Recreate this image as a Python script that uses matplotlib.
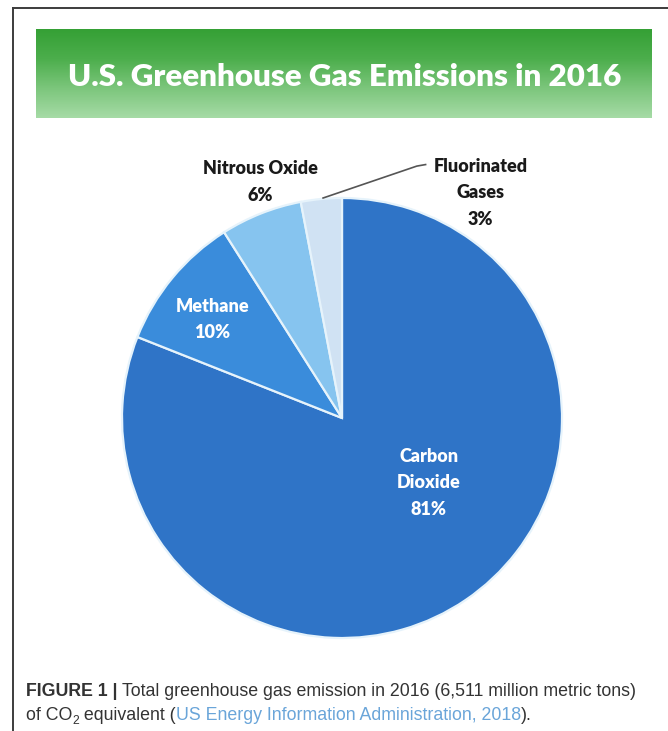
import numpy as np
import matplotlib
matplotlib.use('Agg')
import matplotlib.pyplot as plt
from matplotlib.colors import LinearSegmentedColormap
from matplotlib.lines import Line2D

# data
gases  = ['Carbon Dioxide', 'Methane', 'Nitrous Oxide', 'Fluorinated Gases']
shares = [81, 10, 6, 3]
label_lines = [['Carbon', 'Dioxide', '81%'],
               ['Methane', '10%'],
               ['Nitrous Oxide', '6%'],
               ['Fluorinated', 'Gases', '3%']]
title = 'U.S. Greenhouse Gas Emissions in 2016'

# styles / layout
colors      = ['#2f74c7', '#3a8cdb', '#86c4ef', '#d0e2f3']
text_colors = ['white', 'white', '#1a1a1a', '#1a1a1a']
# label anchor (x, first line y) in pie data units, line step
label_pos = [(0.395, -0.173), (-0.59, 0.509), (-0.373, 1.135), (0.63, 1.145)]
line_step = 0.122

W, H = 668, 731
fig = plt.figure(figsize=(W / 100, H / 100), dpi=100)

def fx(px): return px / W
def fy(py): return 1 - py / H

# frame lines (top + left)
fig.add_artist(Line2D([fx(13), 1], [fy(8), fy(8)], color='#3c3c3c', lw=1.4))
fig.add_artist(Line2D([fx(13), fx(13)], [fy(8), 0], color='#3c3c3c', lw=1.4))

# green banner
axb = fig.add_axes([fx(36), fy(118), fx(652) - fx(36), fy(29) - fy(118)])
cmap = LinearSegmentedColormap.from_list('g', ['#35a035', '#4cae4c', '#7cc67c', '#a6dba6'])
grad = np.linspace(0, 1, 256).reshape(-1, 1)
axb.imshow(grad, cmap=cmap, aspect='auto', extent=[0, 1, 0, 1])
axb.axis('off')
fig.text(fx(345), fy(77), title, color='white', fontsize=22.5, fontweight='heavy',
         family=['Lato', 'DejaVu Sans'], ha='center', va='center')

# pie
cx, cy, r = 342, 418, 220
ax = fig.add_axes([fx(cx - r), fy(cy + r), 2 * r / W, 2 * r / H])
wedges, _ = ax.pie(shares, startangle=90, counterclock=False, colors=colors,
                   wedgeprops=dict(edgecolor='#e6f3fb', linewidth=1.6))
for w in wedges:
    w.set_clip_on(False)
ax.set_xlim(-1, 1)
ax.set_ylim(-1, 1)
ax.set_aspect('auto')
ax.axis('off')

for lines, (lx, ly), tc in zip(label_lines, label_pos, text_colors):
    for k, s in enumerate(lines):
        ax.text(lx, ly - k * line_step, s, color=tc, fontsize=13, fontweight='heavy',
                family=['Lato', 'DejaVu Sans'], ha='center', va='center', clip_on=False)

# leader line for fluorinated gases
ax.plot([-0.086, 0.34, 0.38], [1.0, 1.145, 1.152], color='#555555', lw=1.2, clip_on=False)

# caption
renderer = fig.canvas.get_renderer()
cap_font = ['Liberation Sans', 'DejaVu Sans']

def chain(x0, y0, pieces):
    x = x0
    for s, kw in pieces:
        t = fig.text(x, y0, s, family=cap_font, va='baseline', ha='left', **kw)
        bb = t.get_window_extent(renderer)
        x += bb.width / W
    return x

base = dict(fontsize=12.8, color='#333333')
chain(fx(26), fy(696), [('FIGURE 1 | ', dict(base, fontweight='bold')),
                        ('Total greenhouse gas emission in 2016 (6,511 million metric tons)', base)])
xx = chain(fx(26), fy(720), [('of CO', base)])
xx = chain(xx, fy(723.5), [('2', dict(fontsize=8.8, color='#333333'))])
xx = chain(xx, fy(720), [(' equivalent (', base),
                         ('US Energy Information Administration, 2018', dict(fontsize=12.8, color='#6aa5d9')),
                         (').', base)])

fig.savefig('out.png', dpi=100, facecolor='white')
